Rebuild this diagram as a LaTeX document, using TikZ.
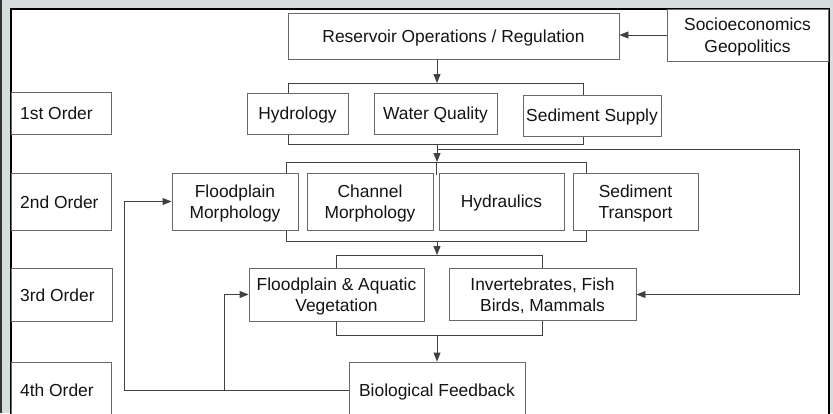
\documentclass[tikz,border=0pt]{standalone}
\usepackage{fontspec}
\setmainfont{Liberation Sans}
\usetikzlibrary{arrows.meta}
\definecolor{bgc}{RGB}{213,221,221}
\definecolor{lnc}{RGB}{65,65,65}
\definecolor{bxc}{RGB}{105,105,105}
\definecolor{txc}{RGB}{20,20,20}
\begin{document}
\begin{tikzpicture}[x=1pt,y=-1pt,
  box/.style={draw=bxc,line width=0.9pt,fill=white,inner sep=0pt,align=center,
    text=txc,text depth=0pt,font=\fontsize{17.4}{21.5}\selectfont},
  lbl/.style={inner sep=0pt,text=txc,text depth=0pt,font=\fontsize{17.4}{21.5}\selectfont,anchor=west},
  conn/.style={draw=lnc,line width=0.9pt},
  arr/.style={conn,-{Triangle[length=9pt,width=7pt]}}]
\useasboundingbox (0,0) rectangle (833,413);
\clip (0,0) rectangle (833,413);
% frame
\fill[bgc] (0,0) rectangle (833,413);
\fill[black!80] (0,0) rectangle (2.2,413);
\fill[white] (11,9) rectangle (829,430);
\draw[black,line width=2pt] (11,430) -- (11,9) -- (829,9) -- (829,430);
% order labels
\node[box,minimum width=100pt,minimum height=42pt] (o1) at (61,113) {};
\node[lbl] (o1t) at (20,113) {1st Order};
\node[box,minimum width=100pt,minimum height=57pt] (o2) at (61,201.5) {};
\node[lbl] (o2t) at (20,202) {2nd Order};
\node[box,minimum width=101pt,minimum height=53pt] (o3) at (61.5,294.5) {};
\node[lbl] (o3t) at (20,295) {3rd Order};
\node[box,minimum width=100pt,minimum height=58pt] (o4) at (61,391) {};
\node[lbl] (o4t) at (20,390) {4th Order};
% spine coordinates
\coordinate (sp) at (437,0);
\coordinate (b1t) at (437,83);
\coordinate (b1b) at (437,144);
\coordinate (b2t) at (437,162);
\coordinate (b2b) at (437,241);
\coordinate (b3t) at (437,255);
\coordinate (b3b) at (437,335);
\coordinate (rx) at (799,149);
\coordinate (fbx) at (124,0);
\coordinate (fbb) at (224,0);
% bracket lines (drawn first, boxes on top)
\draw[conn] (288,93) -- (288,83) -- (583,83) -- (583,95);
\draw[conn] (288,134) -- (288,144) -- (583,144) -- (583,136);
\draw[conn] (286,173) -- (286,162) -- (586,162) -- (586,173);
\draw[conn] (286,230) -- (286,241) -- (586,241) -- (586,230);
\draw[conn] (436,162) -- (436,175);
\draw[conn] (336,268) -- (336,255) -- (542,255) -- (542,268);
\draw[conn] (336,321) -- (336,335) -- (542,335) -- (542,320);
% boxes
\node[box,minimum width=331pt,minimum height=46pt] (res) at (453.5,36) {Reservoir Operations / Regulation};
\node[box,minimum width=161pt,minimum height=52pt] (soc) at (747.5,35) {Socioeconomics\\Geopolitics};
\node[box,minimum width=101pt,minimum height=41pt] (hyd) at (297.5,113.5) {Hydrology};
\node[box,minimum width=123pt,minimum height=41pt] (wq) at (435.5,113.5) {Water Quality};
\node[box,minimum width=138pt,minimum height=41pt] (ss) at (592,115.5) {Sediment Supply};
\node[box,minimum width=126pt,minimum height=57pt] (fm) at (235,201.5) {Floodplain\\Morphology};
\node[box,minimum width=126pt,minimum height=57pt] (cm) at (370,201.5) {Channel\\Morphology};
\node[box,minimum width=125pt,minimum height=57pt] (hy) at (501.5,201.5) {Hydraulics};
\node[box,minimum width=125pt,minimum height=57pt] (st) at (635.5,201.5) {Sediment\\Transport};
\node[box,minimum width=175pt,minimum height=53pt] (fav) at (336.5,294.5) {Floodplain \& Aquatic\\Vegetation};
\node[box,minimum width=187pt,minimum height=52pt] (inv) at (542.5,294.5) {Invertebrates, Fish\\Birds, Mammals};
\node[box,minimum width=176pt,minimum height=56pt] (bio) at (437,390) {Biological Feedback};
% connectors
\draw[arr] (soc.west) -- (soc.west -| res.east);
\draw[arr] (res.south -| sp) -- (b1t);
\draw[arr] (b1b) -- (b2t);
\draw[conn] (437,149) -- (rx);
\draw[arr] (rx) |- (inv.east);
\draw[arr] (b2b) -- (b3t);
\draw[arr] (b3b) -- (bio.north -| sp);
\draw[arr] (bio.west) -- (bio.west -| fbx) |- (fm.west);
\draw[arr] (bio.west -| fbb) |- (fav.west);
\end{tikzpicture}
\end{document}
